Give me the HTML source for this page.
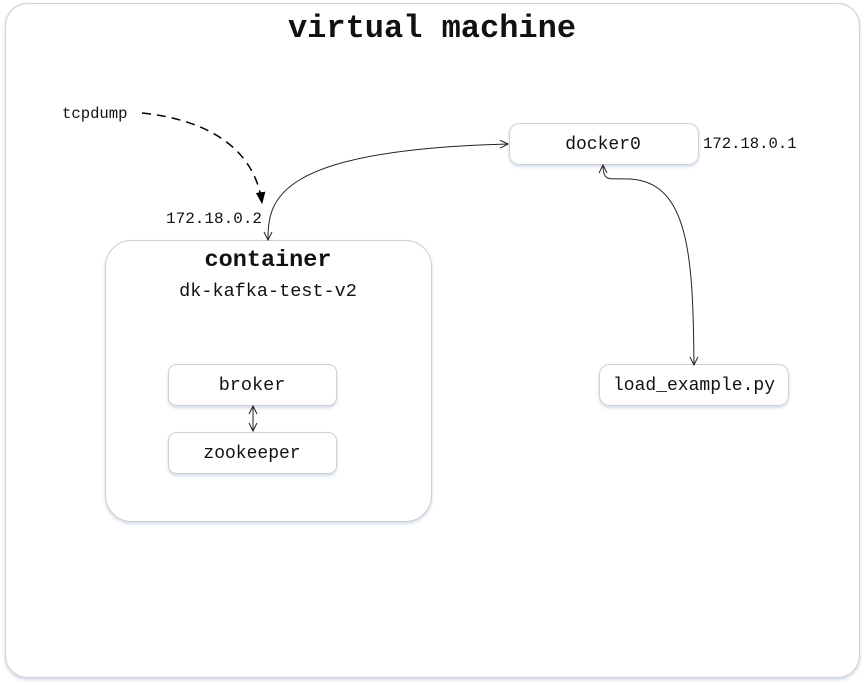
<!DOCTYPE html>
<html><head><meta charset="utf-8"><style>
html,body{margin:0;padding:0;background:#fff;}
svg{display:block;}
text{font-family:"Liberation Mono",monospace;fill:#111;}
</style></head><body>
<svg width="865" height="685" viewBox="0 0 865 685" xmlns="http://www.w3.org/2000/svg">
<defs>
<filter id="sh" x="-10%" y="-10%" width="120%" height="140%"><feDropShadow dx="0" dy="2" stdDeviation="1.5" flood-color="#9bb3d6" flood-opacity="0.45"/></filter>
<marker id="open" viewBox="0 0 10 10" refX="9" refY="5" markerWidth="10" markerHeight="10" orient="auto-start-reverse" markerUnits="userSpaceOnUse"><path d="M1,1 L9,5 L1,9" fill="none" stroke="#222" stroke-width="1"/></marker>
<marker id="fill" viewBox="0 0 10 10" refX="9" refY="5" markerWidth="12" markerHeight="12" orient="auto" markerUnits="userSpaceOnUse"><path d="M0,1 L10,5 L0,9 z" fill="#000"/></marker>
</defs>
<rect x="5.5" y="3.5" width="854" height="674" rx="22" fill="#fff" stroke="#d4d4d4" stroke-width="1.2" filter="url(#sh)"/>
<text x="432" y="37" font-size="32" font-weight="bold" text-anchor="middle">virtual machine</text>

<rect x="105.5" y="240.5" width="326" height="281" rx="26" fill="#fff" stroke="#cfcfcf" filter="url(#sh)"/>
<text x="268" y="266" font-size="23.5" font-weight="bold" text-anchor="middle">container</text>
<text x="268" y="296" font-size="18.5" text-anchor="middle">dk-kafka-test-v2</text>

<rect x="168.5" y="364.5" width="168" height="41" rx="8" fill="#fff" stroke="#d0d0d0" filter="url(#sh)"/>
<text x="252" y="390" font-size="18.5" text-anchor="middle">broker</text>
<rect x="168.5" y="432.5" width="168" height="41" rx="8" fill="#fff" stroke="#d0d0d0" filter="url(#sh)"/>
<text x="252" y="458" font-size="18" text-anchor="middle">zookeeper</text>
<line x1="253" y1="406" x2="253" y2="431" stroke="#222" marker-start="url(#open)" marker-end="url(#open)"/>

<rect x="509.5" y="123.5" width="189" height="41" rx="10" fill="#fff" stroke="#d0d0d0" filter="url(#sh)"/>
<text x="603" y="149" font-size="18" text-anchor="middle">docker0</text>
<text x="703" y="148" font-size="15.6">172.18.0.1</text>

<rect x="599.5" y="364.5" width="189" height="41" rx="10" fill="#fff" stroke="#d0d0d0" filter="url(#sh)"/>
<text x="694" y="390" font-size="18" text-anchor="middle">load_example.py</text>

<text x="62" y="118" font-size="15.6">tcpdump</text>
<text x="166" y="223" font-size="16">172.18.0.2</text>

<path d="M142,113 C210,120 255,150 262,203" fill="none" stroke="#000" stroke-width="1.5" stroke-dasharray="9,6" marker-end="url(#fill)"/>
<path d="M268,240 C268,200 275,150 508,144" fill="none" stroke="#222" stroke-width="1" marker-start="url(#open)" marker-end="url(#open)"/>
<path d="M603,165 C603,183 610,178 630,179 C690,182 693,260 694,365" fill="none" stroke="#222" stroke-width="1" marker-start="url(#open)" marker-end="url(#open)"/>
</svg>
</body></html>
